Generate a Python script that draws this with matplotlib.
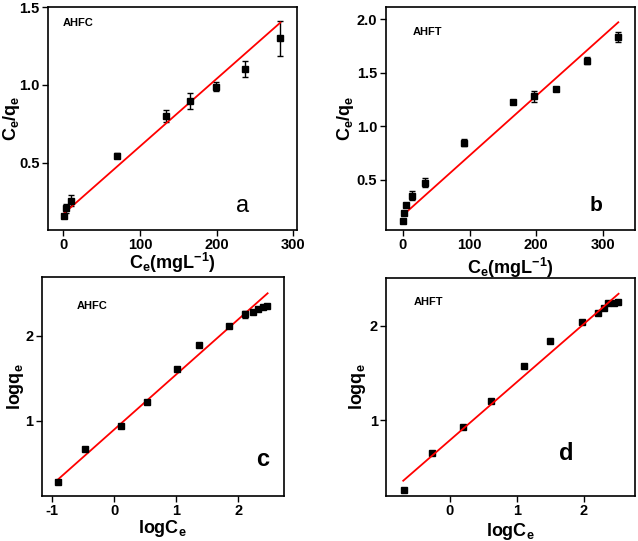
import matplotlib
matplotlib.use("Agg")
import matplotlib.pyplot as plt
from matplotlib import font_manager
import numpy as np

plt.rcParams['font.family'] = ['Liberation Sans', 'DejaVu Sans']
plt.rcParams['mathtext.fontset'] = 'custom'
plt.rcParams['mathtext.rm'] = 'Liberation Sans:bold'
plt.rcParams['mathtext.it'] = 'Liberation Sans:bold'
plt.rcParams['mathtext.bf'] = 'Liberation Sans:bold'
plt.rcParams['axes.unicode_minus'] = False

names = {f.name for f in font_manager.fontManager.ttflist}
TICKFAM = ['Liberation Sans Narrow'] if 'Liberation Sans Narrow' in names else ['Liberation Sans']

# Panel a: Langmuir AHFC
a_x = [1.3, 3.5, 10, 70.6, 133.8, 166, 199.6, 236.6, 283.3]
a_y = [0.157, 0.206, 0.255, 0.545, 0.80, 0.895, 0.989, 1.101, 1.298]
a_err = [0.01, 0.03, 0.035, 0.015, 0.04, 0.05, 0.03, 0.05, 0.11]
a_fit_x = [0, 283.3]
a_fit_y = [0.17, 1.40]

# Panel b: Langmuir AHFT
b_x = [0.5, 1.5, 4.5, 13.5, 32.6, 91.6, 164.8, 196.3, 229.4, 276.9, 323.5]
b_y = [0.121, 0.19, 0.264, 0.354, 0.475, 0.848, 1.228, 1.281, 1.349, 1.613, 1.833]
b_err = [0.015, 0.01, 0.01, 0.04, 0.04, 0.03, 0.02, 0.05, 0.015, 0.03, 0.05]
b_fit_x = [1.5, 323.5]
b_fit_y = [0.18, 1.97]

# Panel c: Freundlich AHFC
c_x = [-0.908, -0.473, 0.113, 0.523, 1.006, 1.366, 1.855, 2.108, 2.232, 2.313, 2.393, 2.468]
c_y = [0.275, 0.667, 0.941, 1.224, 1.605, 1.890, 2.118, 2.251, 2.275, 2.314, 2.333, 2.345]
c_err = [0.01, 0.01, 0.01, 0.01, 0.01, 0.01, 0.01, 0.04, 0.01, 0.01, 0.01, 0.01]
c_fit_x = [-0.92, 2.473]
c_fit_y = [0.302, 2.499]

# Panel d: Freundlich AHFT
d_x = [-0.693, -0.265, 0.2, 0.619, 1.103, 1.502, 1.971, 2.22, 2.30, 2.37, 2.45, 2.52]
d_y = [0.254, 0.650, 0.929, 1.201, 1.576, 1.838, 2.039, 2.131, 2.191, 2.237, 2.24, 2.251]
d_fit_x = [-0.7, 2.523]
d_fit_y = [0.356, 2.339]

fig = plt.figure(figsize=(6.38, 5.41), dpi=100)

def style(ax, xl, yl, xlab, ylab):
    for s in ax.spines.values():
        s.set_linewidth(1.2)
    ax.tick_params(direction='out', length=4, width=1, top=False, right=False,
                   labelsize=10.5, pad=2)
    for lab in ax.get_xticklabels() + ax.get_yticklabels():
        lab.set_fontweight('bold')
        lab.set_family(TICKFAM)
    ax.set_xlabel(xlab, fontsize=13, fontweight='bold')
    ax.set_ylabel(ylab, fontsize=13, fontweight='bold')
    ax.xaxis.set_label_coords(0.5, xl)
    ax.yaxis.set_label_coords(yl, 0.5)
    ax.xaxis.label.set_va('top')
    ax.yaxis.label.set_va('center')

XL1 = r'C$_\mathregular{e}$(mgL$^\mathregular{-1}$)'
YL1 = r'C$_\mathregular{e}$/q$_\mathregular{e}$'
XL2 = r'logC$_\mathregular{e}$'
YL2 = r'logq$_\mathregular{e}$'

axa = fig.add_axes([0.0752, 0.5749, 0.3903, 0.4121])
axa.errorbar(a_x, a_y, yerr=a_err, fmt='s', color='black', ms=4, capsize=2.5, elinewidth=1, capthick=1)
axa.plot(a_fit_x, a_fit_y, color='red', lw=1.3)
axa.set_xlim(-20, 305)
axa.set_ylim(0.067, 1.5)
axa.set_xticks([0, 100, 200, 300])
axa.set_yticks([0.5, 1.0, 1.5])
axa.set_yticklabels(['0.5', '1.0', '1.5'])
axa.text(0.06, 0.93, 'AHFC', transform=axa.transAxes, fontsize=8, fontweight='bold', va='center', ha='left')
axa.text(0.783, 0.108, 'a', transform=axa.transAxes, fontsize=17, va='center', ha='center')
style(axa, -0.095, -0.145, XL1, YL1)

axb = fig.add_axes([0.6045, 0.5749, 0.3908, 0.4127])
axb.errorbar(b_x, b_y, yerr=b_err, fmt='s', color='black', ms=4, capsize=2.5, elinewidth=1, capthick=1)
axb.plot(b_fit_x, b_fit_y, color='red', lw=1.3)
axb.set_xlim(-26, 348.6)
axb.set_ylim(0.034, 2.115)
axb.set_xticks([0, 100, 200, 300])
axb.set_yticks([0.5, 1.0, 1.5, 2.0])
axb.set_yticklabels(['0.5', '1.0', '1.5', '2.0'])
axb.text(0.11, 0.887, 'AHFT', transform=axb.transAxes, fontsize=8, fontweight='bold', va='center', ha='left')
axb.text(0.844, 0.108, 'b', transform=axb.transAxes, fontsize=15, fontweight='bold', va='center', ha='center')
style(axb, -0.115, -0.16, XL1, YL1)

axc = fig.add_axes([0.0654, 0.0837, 0.3797, 0.4037])
axc.errorbar(c_x, c_y, yerr=c_err, fmt='s', color='black', ms=4, capsize=2.5, elinewidth=1, capthick=1)
axc.plot(c_fit_x, c_fit_y, color='red', lw=1.3)
axc.set_xlim(-1.171, 2.737)
axc.set_ylim(0.118, 2.687)
axc.set_xticks([-1, 0, 1, 2])
axc.set_yticks([1, 2])
axc.text(0.146, 0.869, 'AHFC', transform=axc.transAxes, fontsize=8, fontweight='bold', va='center', ha='left')
axc.text(0.913, 0.168, 'c', transform=axc.transAxes, fontsize=17, fontweight='bold', va='center', ha='center')
style(axc, -0.1, -0.11, XL2, YL2)

axd = fig.add_axes([0.605, 0.0837, 0.3903, 0.4019])
axd.plot(d_x, d_y, 's', color='black', ms=4)
axd.plot(d_fit_x, d_fit_y, color='red', lw=1.3)
axd.set_xlim(-0.958, 2.769)
axd.set_ylim(0.197, 2.503)
axd.set_xticks([0, 1, 2])
axd.set_yticks([1, 2])
axd.text(0.112, 0.89, 'AHFT', transform=axd.transAxes, fontsize=8, fontweight='bold', va='center', ha='left')
axd.text(0.723, 0.196, 'd', transform=axd.transAxes, fontsize=17, fontweight='bold', va='center', ha='center')
style(axd, -0.115, -0.116, XL2, YL2)

fig.savefig('out.png', dpi=100)
